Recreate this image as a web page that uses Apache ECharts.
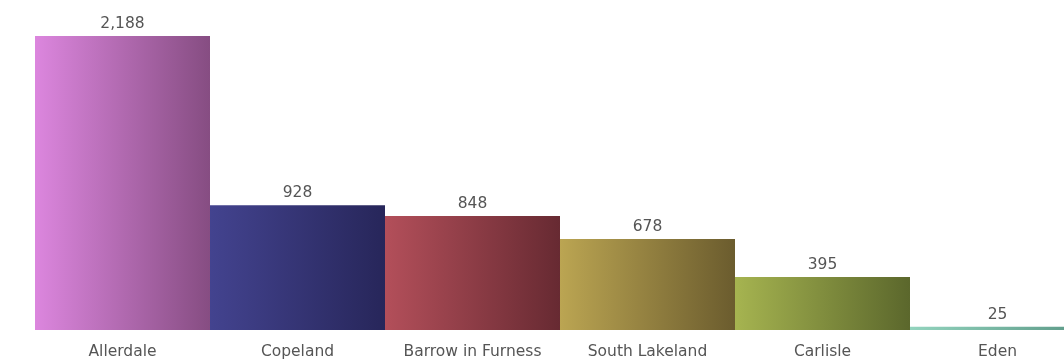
<!DOCTYPE html>
<html>
<head>
<meta charset="utf-8">
<script src="https://cdn.jsdelivr.net/npm/echarts@6/dist/echarts.min.js"></script>
<style>
  html, body { margin: 0; padding: 0; background: #fff; overflow: hidden; }
  /* the plot runs past the right edge of the window; the last bar is clipped */
  #chart { width: 1085px; height: 360px; }
</style>
</head>
<body>
<div id="chart"></div>
<script>
// District totals
const districts = ['Allerdale', 'Copeland', 'Barrow in Furness', 'South Lakeland', 'Carlisle', 'Eden'];
const totals = [2188, 928, 848, 678, 395, 25];

// Horizontal gradient per bar: light on the left, dark on the right
const lightShades = ['#dc86de', '#43438f', '#b34f5a', '#bba552', '#a6b450', '#93d4be'];
const darkShades  = ['#864d82', '#27265a', '#672a32', '#6b5c2e', '#5b672c', '#5b9886'];

const chart = echarts.init(document.getElementById('chart'), null, { renderer: 'canvas' });

const barData = totals.map((v, i) => ({
  value: v,
  itemStyle: {
    color: new echarts.graphic.LinearGradient(0, 0, 1, 0, [
      { offset: 0, color: lightShades[i] },
      { offset: 1, color: darkShades[i] }
    ])
  }
}));

const labelFont = { color: '#555555', fontFamily: 'DejaVu Sans', fontSize: 15.5 };

chart.setOption({
  animation: false,
  backgroundColor: '#ffffff',
  grid: { left: 35, right: 0, top: 36, bottom: 30, containLabel: false },
  xAxis: {
    type: 'category',
    data: districts,
    axisLine: { show: false },
    axisTick: { show: false },
    axisLabel: Object.assign({ margin: 14, interval: 0 }, labelFont)
  },
  yAxis: {
    type: 'value',
    min: 0,
    max: 2188,
    show: false,
    splitLine: { show: false }
  },
  series: [{
    type: 'bar',
    data: barData,
    barCategoryGap: 0,
    barWidth: '100%',
    label: Object.assign({
      show: true,
      position: 'top',
      distance: 4,
      formatter: p => p.value.toLocaleString('en-US')
    }, labelFont)
  }]
});
</script>
</body>
</html>
